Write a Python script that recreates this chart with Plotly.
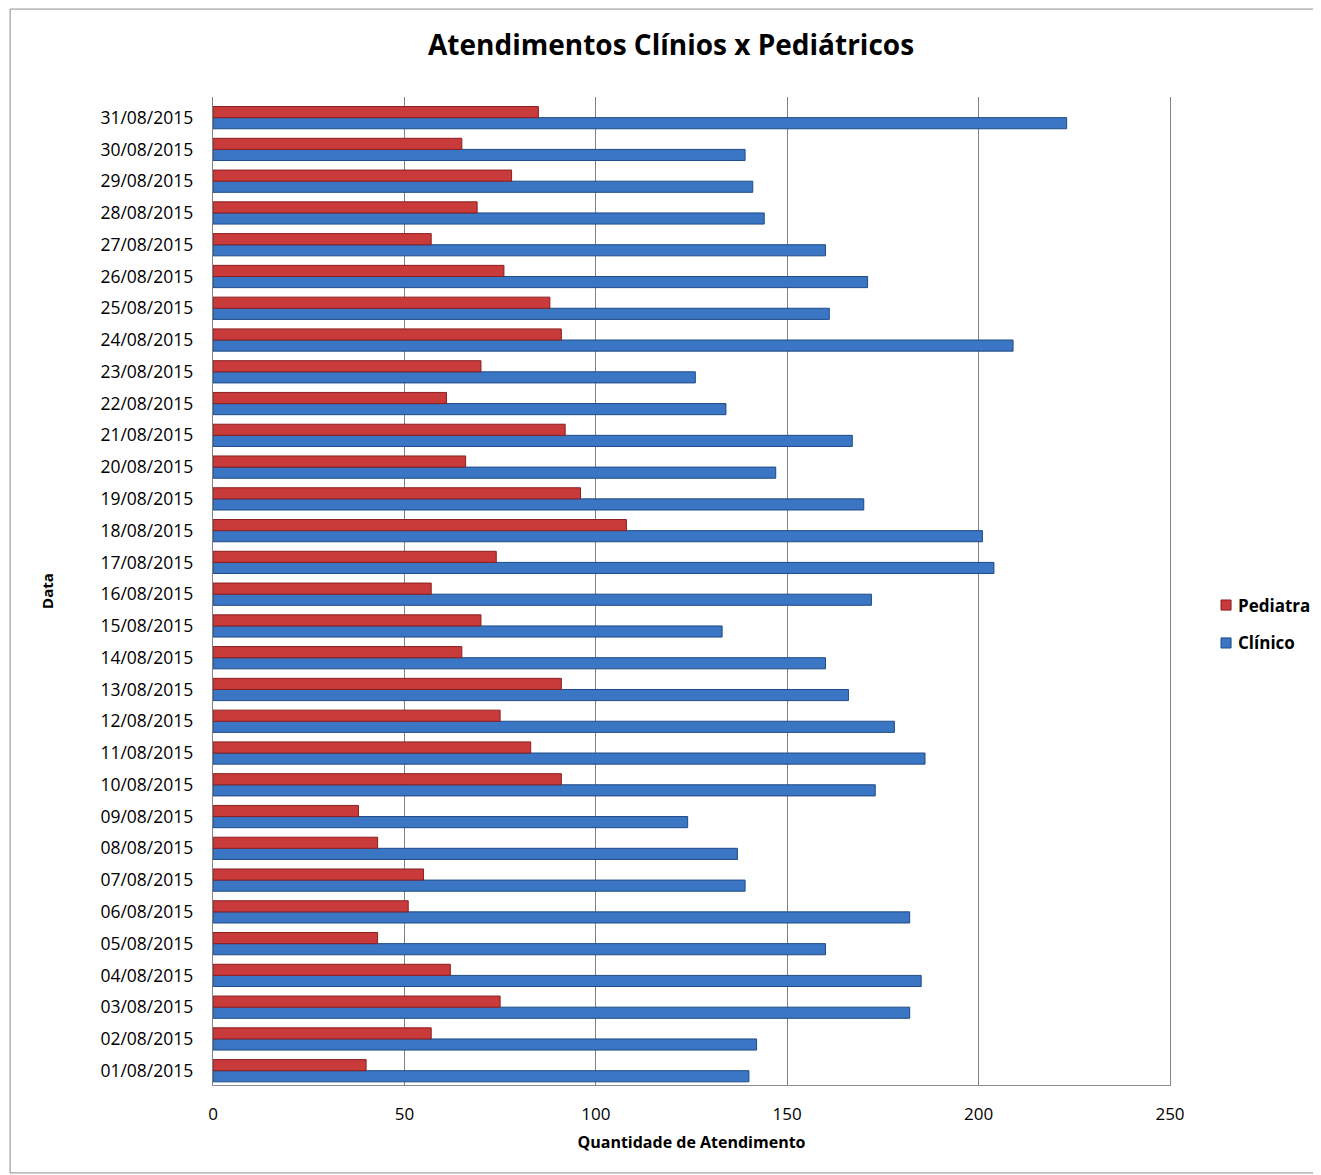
import plotly.graph_objects as go

dates = [f"{d:02d}/08/2015" for d in range(1, 32)]
pediatra = [40, 57, 75, 62, 43, 51, 55, 43, 38, 91, 83, 75, 91, 65, 70, 57,
            74, 108, 96, 66, 92, 61, 70, 91, 88, 76, 57, 69, 78, 65, 85]
clinico = [140, 142, 182, 185, 160, 182, 139, 137, 124, 173, 186, 178, 166, 160, 133, 172,
           204, 201, 170, 147, 167, 134, 126, 209, 161, 171, 160, 144, 141, 139, 223]
x_ticks = [0, 50, 100, 150, 200, 250]
series_names = ["Pediatra", "Clínico"]
series_colors = ["#C93A3B", "#3A76C4"]
series_edges = ["#8A1F20", "#1F4A85"]

FONT = "Open Sans, Noto Sans, sans-serif"

fig = go.Figure()
fig.add_trace(go.Bar(
    y=dates, x=clinico, orientation="h", name=series_names[1],
    marker=dict(color=series_colors[1], line=dict(color=series_edges[1], width=1)),
))
fig.add_trace(go.Bar(
    y=dates, x=pediatra, orientation="h", name=series_names[0],
    marker=dict(color=series_colors[0], line=dict(color=series_edges[0], width=1)),
))

# page body has an 8px margin, so the figure is shrunk by 8px on each axis
fig.update_layout(
    width=1313, height=1167,
    paper_bgcolor="white", plot_bgcolor="white",
    margin=dict(l=205, r=151, t=89, b=90),
    barmode="group", bargap=0.3, bargroupgap=0.0,
    font=dict(family=FONT, size=16, color="#000000"),
    title=dict(text="<b>Atendimentos Clínios x Pediátricos</b>",
               x=0.505, xanchor="center", y=0.968, yanchor="middle",
               font=dict(family=FONT, size=28, color="#000000")),
    showlegend=False,
)

fig.update_xaxes(
    range=[0, 250], tickvals=x_ticks, ticktext=[str(v) for v in x_ticks],
    showgrid=True, gridcolor="#828282", gridwidth=1.4,
    showline=True, linecolor="#8C8C8C", linewidth=1,
    zeroline=False,
    ticks="outside", ticklen=14, tickcolor="rgba(0,0,0,0)",
    tickfont=dict(family=FONT, size=17),
    title=dict(text="<b>Quantidade de Atendimento</b>", standoff=12,
               font=dict(family=FONT, size=16)),
)
fig.update_yaxes(
    type="category", range=[-0.45, 30.65],
    showgrid=False, showline=True, linecolor="#828282", linewidth=1.4,
    mirror=True,
    ticks="outside", ticklen=15, tickcolor="rgba(0,0,0,0)",
    tickfont=dict(family=FONT, size=17.5),
    title=dict(text="<b>Data</b>", standoff=43,
               font=dict(family=FONT, size=15)),
)

fig.add_shape(type="rect", xref="paper", yref="paper",
              x0=-0.212, x1=1.156, y0=-0.089, y1=1.089,
              line=dict(color="#8C8C8C", width=1), fillcolor="rgba(0,0,0,0)",
              layer="below")

# hand-drawn legend (keeps the plot area from shrinking)
legend_y = [0.4858, 0.4474]
for name, color, edge, ly in zip(series_names, series_colors, series_edges, legend_y):
    fig.add_shape(type="rect", xref="paper", yref="paper",
                  x0=1.0533, x1=1.0638, y0=ly - 0.0051, y1=ly + 0.0051,
                  line=dict(color=edge, width=1), fillcolor=color)
    fig.add_annotation(text=f"<b>{name}</b>", xref="paper", yref="paper",
                       x=1.0685, y=ly, xanchor="left", yanchor="middle",
                       showarrow=False, font=dict(family=FONT, size=17, color="#000000"))

fig.write_html("out.html")
